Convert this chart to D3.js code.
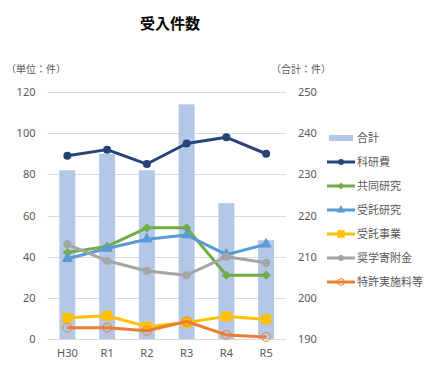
<!DOCTYPE html>
<html><head><meta charset="utf-8">
<script src="https://cdn.jsdelivr.net/npm/d3@7"></script>
<style>body{margin:0;background:#fff;}svg{display:block;font-family:"Noto Sans CJK JP","Noto Sans",sans-serif;}</style>
</head><body><svg id="c" width="441" height="371"></svg>
<script>
const categories = ["H30","R1","R2","R3","R4","R5"];
const totalValues = [231,235,231,247,223,214];
const seriesNames = ["科研費","共同研究","受託研究","受託事業","奨学寄附金","特許実施料等"];
const kakenhi = [89,92,85,95,98,90];
const kyodo = [42,45,54,54,31,31];
const jutakuKenkyu = [39,44,48.5,50.5,41,46];
const jutakuJigyo = [10.3,11.3,6,8,11,9.5];
const shogaku = [46,38,33,31,40,37];
const tokkyo = [5.5,5.5,4,8.5,2,1];
const leftTicks = [0,20,40,60,80,100,120];
const rightTicks = [190,200,210,220,230,240,250];

const series = [
  {name:seriesNames[0], values:kakenhi, color:"#264478", marker:"circle"},
  {name:seriesNames[1], values:kyodo, color:"#70ad47", marker:"diamond"},
  {name:seriesNames[2], values:jutakuKenkyu, color:"#5b9bd5", marker:"triangle"},
  {name:seriesNames[3], values:jutakuJigyo, color:"#ffc000", marker:"square"},
  {name:seriesNames[4], values:shogaku, color:"#a5a5a5", marker:"circle"},
  {name:seriesNames[5], values:tokkyo, color:"#ed7d31", marker:"hollow"}
];

const svg = d3.select("#c");
const L=47.5, R=286, T=92, B=339;
const x = d3.scaleBand().domain(categories).range([L,R]);
const yL = d3.scaleLinear().domain([0,120]).range([B,T]);
const yR = d3.scaleLinear().domain([190,250]).range([B,T]);
const txt = "#595959";

svg.append("text").attr("x",170).attr("y",29).attr("text-anchor","middle")
  .attr("font-size",15).attr("font-weight","bold").attr("fill","#000").text("受入件数");
svg.append("text").attr("x",6).attr("y",73).attr("font-size",10).attr("fill",txt).text("（単位：件）");
svg.append("text").attr("x",271).attr("y",73).attr("font-size",10).attr("fill",txt).text("（合計：件）");

// grid
svg.append("g").selectAll("line").data(leftTicks).join("line")
  .attr("x1",L).attr("x2",R).attr("y1",d=>Math.round(yL(d))+0.5).attr("y2",d=>Math.round(yL(d))+0.5)
  .attr("stroke","#d9d9d9").attr("stroke-width",1);

// left axis
const gl = svg.append("g").attr("transform",`translate(${L},0)`)
  .call(d3.axisLeft(yL).tickValues(leftTicks).tickSize(0).tickPadding(12));
gl.select(".domain").remove();
gl.selectAll("text").attr("font-size",11).attr("fill",txt).attr("font-family","'Noto Sans',sans-serif");

// right axis
const gr = svg.append("g").attr("transform",`translate(${R},0)`)
  .call(d3.axisRight(yR).tickValues(rightTicks).tickSize(0).tickPadding(12));
gr.select(".domain").remove();
gr.selectAll("text").attr("font-size",11).attr("fill",txt).attr("font-family","'Noto Sans',sans-serif");

// bottom axis
const gb = svg.append("g").attr("transform",`translate(0,${B})`)
  .call(d3.axisBottom(x).tickSize(0).tickPadding(10));
gb.select(".domain").remove();
gb.selectAll("text").attr("font-size",11).attr("fill",txt).attr("font-family","'Noto Sans',sans-serif");

// bars
const bw = 16;
svg.append("g").selectAll("rect").data(totalValues).join("rect")
  .attr("x",(d,i)=>x(categories[i])+x.bandwidth()/2-bw/2)
  .attr("width",bw)
  .attr("y",d=>yR(d)).attr("height",d=>B-yR(d))
  .attr("fill","#b4c7e7");

function drawMarker(g, type, color, cx, cy, legend){
  const s = legend?0.75:1;
  if(type==="circle") g.append("circle").attr("cx",cx).attr("cy",cy).attr("r",4*s).attr("fill",color);
  else if(type==="diamond") g.append("rect").attr("x",-3.3*s).attr("y",-3.3*s).attr("width",6.6*s).attr("height",6.6*s)
      .attr("transform",`translate(${cx},${cy}) rotate(45)`).attr("fill",color);
  else if(type==="triangle") g.append("path").attr("d",d3.symbol(d3.symbolTriangle, 55*s*s)()).attr("transform",`translate(${cx},${cy})`).attr("fill",color);
  else if(type==="square") g.append("rect").attr("x",cx-5*s).attr("y",cy-5*s).attr("width",10*s).attr("height",10*s).attr("fill",color);
  else if(type==="hollow") g.append("circle").attr("cx",cx).attr("cy",cy).attr("r",4.5*s).attr("fill","none").attr("stroke",color).attr("stroke-width",1);
}

const line = d3.line().x((d,i)=>x(categories[i])+x.bandwidth()/2).y(d=>yL(d));
series.forEach(s=>{
  const g = svg.append("g");
  g.append("path").datum(s.values).attr("d",line).attr("fill","none")
    .attr("stroke",s.color).attr("stroke-width",3).attr("stroke-linejoin","round");
  s.values.forEach((v,i)=>drawMarker(g,s.marker,s.color,x(categories[i])+x.bandwidth()/2,yL(v),false));
});

// legend
const lg = svg.append("g");
const lx1=327, lx2=355, ly0=138, ldy=24;
lg.append("rect").attr("x",329).attr("y",ly0-3).attr("width",24).attr("height",6).attr("fill","#b4c7e7");
lg.append("text").attr("x",357).attr("y",ly0+4).attr("font-size",11).attr("fill",txt).text("合計");
series.forEach((s,i)=>{
  const yy = ly0 + ldy*(i+1);
  lg.append("line").attr("x1",lx1).attr("x2",lx2).attr("y1",yy).attr("y2",yy).attr("stroke",s.color).attr("stroke-width",3);
  drawMarker(lg,s.marker,s.color,(lx1+lx2)/2,yy,true);
  lg.append("text").attr("x",357).attr("y",yy+4).attr("font-size",11).attr("fill",txt).text(s.name);
});
</script></body></html>
